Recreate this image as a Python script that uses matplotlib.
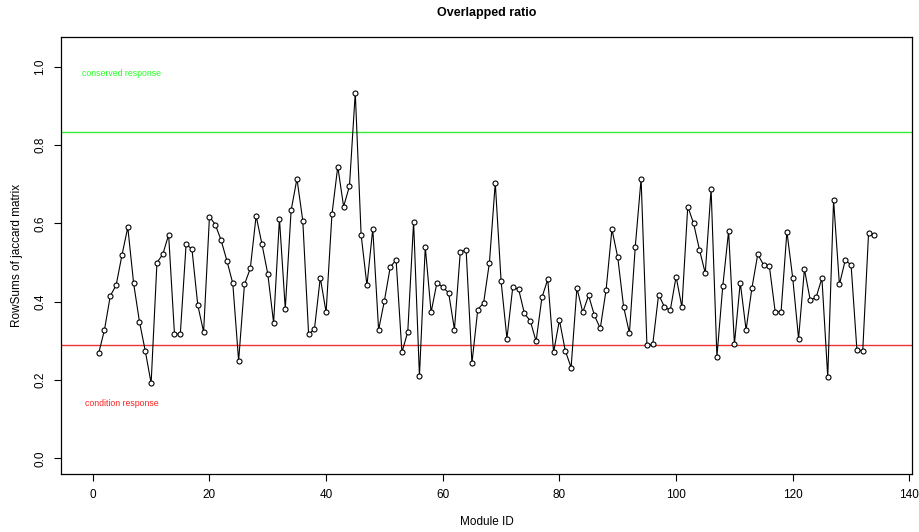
import numpy as np
import matplotlib
matplotlib.use("Agg")
from matplotlib import pyplot as plt

plt.rcParams['font.family'] = ['Liberation Sans', 'DejaVu Sans']

# overlapped ratio per module
ratio = [0.268, 0.328, 0.415, 0.442, 0.519, 0.590, 0.447, 0.349, 0.274, 0.192,
         0.500, 0.521, 0.571, 0.318, 0.317, 0.547, 0.534, 0.391, 0.323, 0.617,
         0.597, 0.557, 0.504, 0.447, 0.249, 0.444, 0.485, 0.619, 0.547, 0.471,
         0.346, 0.612, 0.382, 0.633, 0.714, 0.607, 0.317, 0.330, 0.461, 0.373,
         0.623, 0.745, 0.643, 0.695, 0.934, 0.571, 0.442, 0.586, 0.328, 0.403,
         0.489, 0.506, 0.271, 0.323, 0.604, 0.210, 0.540, 0.373, 0.449, 0.437,
         0.423, 0.329, 0.526, 0.533, 0.243, 0.380, 0.397, 0.500, 0.704, 0.452,
         0.306, 0.437, 0.432, 0.370, 0.351, 0.299, 0.411, 0.457, 0.271, 0.353,
         0.275, 0.232, 0.435, 0.373, 0.416, 0.365, 0.332, 0.430, 0.585, 0.513,
         0.387, 0.320, 0.540, 0.714, 0.289, 0.291, 0.418, 0.387, 0.378, 0.464,
         0.386, 0.643, 0.600, 0.533, 0.473, 0.688, 0.260, 0.439, 0.580, 0.292,
         0.449, 0.328, 0.435, 0.521, 0.494, 0.490, 0.373, 0.375, 0.579, 0.460,
         0.306, 0.483, 0.404, 0.411, 0.460, 0.208, 0.659, 0.444, 0.506, 0.494,
         0.277, 0.275, 0.576, 0.571]
module_id = np.arange(1, len(ratio) + 1)

upper_cut = 0.834   # conserved response threshold
lower_cut = 0.289   # condition response threshold

fig = plt.figure(figsize=(9.19, 5.32), dpi=100)
ax = fig.add_axes([0.0667, 0.1096, 0.9254, 0.8203])

ax.plot(module_id, ratio, color='black', lw=0.8, zorder=2)
ax.plot(module_id, ratio, 'o', ms=3.6, mfc='white', mec='black', mew=0.8, zorder=3)
ax.axhline(upper_cut, color='#33ee33', lw=1.0, zorder=1)
ax.axhline(lower_cut, color='#ee3333', lw=1.0, zorder=1)
ax.text(5, 0.983, 'conserved response', color='#22ff22', fontsize=6.3,
        ha='center', va='center')
ax.text(5, 0.141, 'condition response', color='#ff2222', fontsize=6.3,
        ha='center', va='center')

ax.set_xlim(-5.4, 140.4)
ax.set_ylim(-0.039, 1.075)
ax.set_xticks(np.arange(0, 141, 20))
ax.set_yticks([0.0, 0.2, 0.4, 0.6, 0.8, 1.0])
ax.set_yticklabels(['0.0', '0.2', '0.4', '0.6', '0.8', '1.0'], rotation=90, va='center')
ax.tick_params(direction='out', length=5, width=0.8, labelsize=8.5, pad=6)

for s in ax.spines.values():
    s.set_linewidth(0.9)

ax.set_title('Overlapped ratio', fontsize=9, fontweight='bold', pad=15)
ax.set_xlabel('Module ID', fontsize=8.5, labelpad=11)
ax.set_ylabel('RowSums of jaccard matrix', fontsize=8.5, labelpad=8)

fig.savefig('out.png', dpi=100)
